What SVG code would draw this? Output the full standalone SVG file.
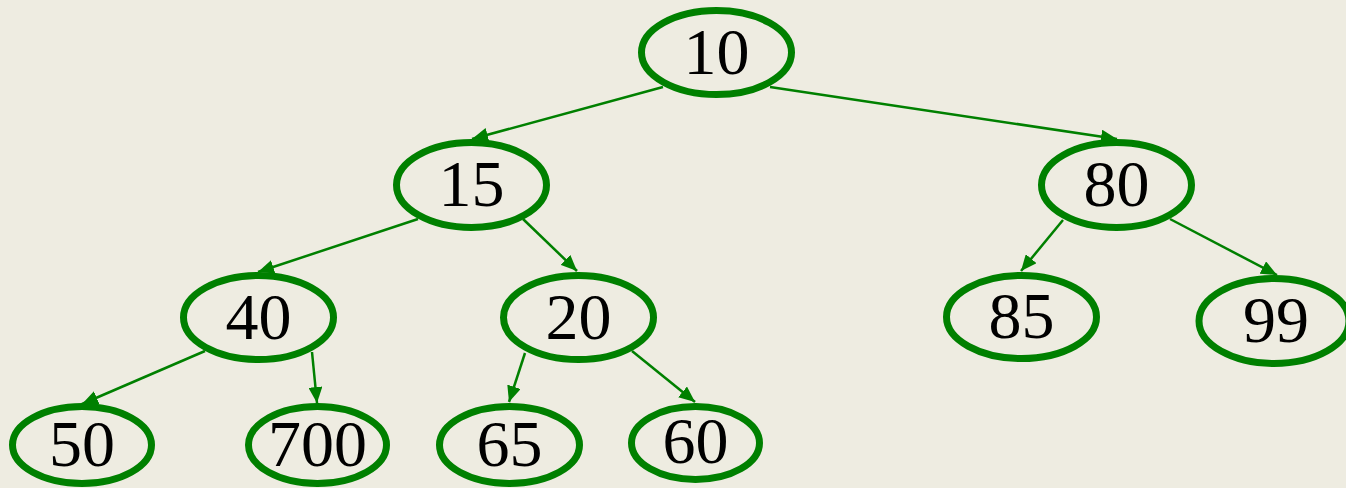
<svg xmlns="http://www.w3.org/2000/svg" width="1346" height="488" viewBox="0 0 1346 488">
  <style>
    .node ellipse { fill: #EEECE1; stroke: #008000; stroke-width: 7; }
    .node text { font-family: "Liberation Serif", "Times New Roman", serif; font-size: 66px; fill: #000000; text-anchor: middle; }
    .edge { stroke: #008000; stroke-width: 2.5; fill: none; marker-end: url(#arrow); }
  </style>
  <defs>
    <marker id="arrow" markerUnits="userSpaceOnUse" markerWidth="16" markerHeight="14" refX="16" refY="7" orient="auto">
      <path d="M0,0 L16,7 L0,14 Z" fill="#008000"/>
    </marker>
  </defs>
  <rect width="1346" height="488" fill="#EEECE1"/>

  <!-- connectors, drawn beneath the nodes -->
  <g id="connectors">
    <line class="edge" x1="663" y1="87" x2="472" y2="139"/>
    <line class="edge" x1="770" y1="87" x2="1117" y2="139"/>
    <line class="edge" x1="418" y1="219" x2="258" y2="272"/>
    <line class="edge" x1="523" y1="219" x2="577" y2="271"/>
    <line class="edge" x1="1063" y1="220" x2="1021" y2="271"/>
    <line class="edge" x1="1170" y1="219" x2="1277" y2="275"/>
    <line class="edge" x1="205" y1="351" x2="82" y2="404"/>
    <line class="edge" x1="312" y1="352" x2="317" y2="403"/>
    <line class="edge" x1="525" y1="353" x2="509" y2="402"/>
    <line class="edge" x1="632" y1="351" x2="695" y2="402"/>
  </g>

  <g id="n10" class="node"><ellipse cx="716.5" cy="52.5" rx="75" ry="42"/><text x="716.5" y="73.5">10</text></g>
  <g id="n15" class="node"><ellipse cx="471.5" cy="185" rx="75" ry="42.5"/><text x="471.5" y="206">15</text></g>
  <g id="n80" class="node"><ellipse cx="1116.5" cy="185" rx="75" ry="42.5"/><text x="1116.5" y="206">80</text></g>
  <g id="n40" class="node"><ellipse cx="258.5" cy="317.5" rx="75" ry="42"/><text x="258.5" y="338.5">40</text></g>
  <g id="n20" class="node"><ellipse cx="578.5" cy="317.5" rx="75" ry="42"/><text x="578.5" y="338.5">20</text></g>
  <g id="n85" class="node"><ellipse cx="1021.5" cy="317" rx="75" ry="41.5"/><text x="1021.5" y="337.5">85</text></g>
  <g id="n99" class="node"><ellipse cx="1274" cy="321" rx="75" ry="42.5"/><text x="1276" y="342">99</text></g>
  <g id="n50" class="node"><ellipse cx="82" cy="445" rx="69.5" ry="38.5"/><text x="82" y="465.5">50</text></g>
  <g id="n700" class="node"><ellipse cx="317.5" cy="445" rx="69" ry="38.5"/><text x="317.5" y="465.5">700</text></g>
  <g id="n65" class="node"><ellipse cx="509.5" cy="445" rx="70" ry="38.5"/><text x="509.5" y="465.5">65</text></g>
  <g id="n60" class="node"><ellipse cx="695.5" cy="443" rx="64" ry="36.5"/><text x="695.5" y="463">60</text></g>
</svg>
